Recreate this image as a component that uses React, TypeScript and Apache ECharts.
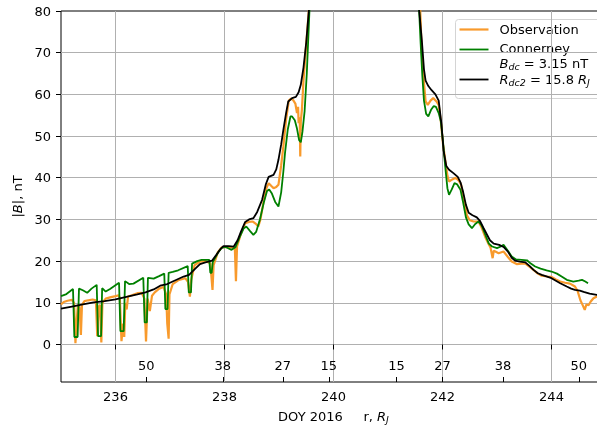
import { useEffect, useRef } from "react";
import * as echarts from "echarts";

// DOY tick positions and |B| tick values
const doyTicks = [236, 238, 240, 242, 244];
const bTicks = [0, 10, 20, 30, 40, 50, 60, 70];

// Radial distance (R_J) labels placed at their DOY positions
const rTickDoy = [236.563, 237.97, 239.07, 239.915, 241.157, 242.0, 243.11, 244.5];
const rTickLabels = ["50", "38", "27", "15", "15", "27", "38", "50"];

// Measured field magnitude, [DOY, nT]
const observation: [number, number][] = [
  [235.0, 9.6], [235.05, 10.2], [235.12, 10.5], [235.2, 10.7], [235.24, 10.0],
  [235.265, 0.3], [235.29, 6.0], [235.31, 9.5], [235.34, 9.0], [235.365, 2.3],
  [235.385, 9.5], [235.43, 10.4], [235.5, 10.6], [235.58, 10.8], [235.64, 10.6],
  [235.665, 2.0], [235.69, 9.0], [235.715, 9.5], [235.74, 0.5], [235.76, 10.0],
  [235.82, 11.0], [235.9, 11.3], [236.0, 11.6], [236.06, 11.8], [236.08, 11.0],
  [236.11, 0.8], [236.14, 5.0], [236.16, 1.8], [236.18, 10.0], [236.205, 8.4],
  [236.23, 11.5], [236.3, 11.8], [236.4, 12.3], [236.48, 12.4], [236.53, 11.0],
  [236.56, 0.7], [236.59, 11.0], [236.63, 8.0], [236.67, 11.7], [236.72, 12.5],
  [236.8, 13.4], [236.88, 13.8], [236.93, 12.0], [236.95, 5.0], [236.975, 1.4],
  [236.99, 12.0], [237.05, 14.5], [237.15, 15.4], [237.28, 15.9], [237.33, 15.0],
  [237.365, 11.5], [237.39, 15.5], [237.45, 19.0], [237.55, 19.9], [237.65, 20.0],
  [237.74, 19.5], [237.78, 13.1], [237.8, 19.0], [237.88, 22.2], [237.95, 23.3],
  [238.05, 23.4], [238.15, 23.2], [238.19, 23.0], [238.21, 15.2], [238.23, 23.5],
  [238.3, 26.5], [238.38, 29.1], [238.45, 29.4], [238.52, 29.5], [238.57, 29.0],
  [238.62, 28.3], [238.66, 30.0], [238.72, 34.5], [238.77, 37.5], [238.81, 38.7],
  [238.86, 38.0], [238.9, 37.5], [238.95, 37.8], [238.99, 38.3], [239.04, 43.0],
  [239.08, 47.5], [239.13, 54.0], [239.18, 58.5], [239.22, 59.0], [239.26, 58.6],
  [239.3, 57.8], [239.33, 55.5], [239.35, 57.0], [239.36, 53.1], [239.38, 54.5],
  [239.39, 45.1], [239.4, 53.5], [239.42, 56.3], [239.45, 63.5], [239.5, 72.0],
  [239.55, 80.5], [239.62, 100], [241.5, 100], [241.59, 80.5], [241.62, 70.0],
  [241.66, 62.7], [241.69, 58.3], [241.73, 57.5], [241.78, 58.5], [241.83, 59.1],
  [241.89, 58.3], [241.93, 57.5], [241.97, 53.5], [242.01, 48.0], [242.05, 44.3],
  [242.09, 40.5], [242.12, 39.1], [242.18, 39.6], [242.24, 40.0], [242.3, 39.3],
  [242.34, 38.4], [242.39, 35.0], [242.45, 30.9], [242.5, 29.8], [242.57, 29.5],
  [242.66, 29.5], [242.72, 28.0], [242.79, 25.6], [242.85, 24.0], [242.88, 23.3],
  [242.92, 20.7], [242.94, 22.5], [242.97, 22.3], [243.03, 21.9], [243.12, 22.3],
  [243.2, 21.0], [243.27, 19.9], [243.36, 19.3], [243.45, 19.4], [243.52, 19.4],
  [243.6, 18.6], [243.67, 17.9], [243.75, 17.0], [243.82, 16.5], [243.92, 16.3],
  [244.0, 16.2], [244.08, 15.6], [244.16, 15.1], [244.25, 14.8], [244.34, 14.6],
  [244.43, 13.9], [244.48, 12.8], [244.53, 10.6], [244.57, 9.5], [244.61, 8.3],
  [244.64, 9.6], [244.68, 9.4], [244.72, 10.3], [244.77, 11.1], [244.83, 11.5],
  [244.95, 11.7],
];

// Connerney current-sheet model, [DOY, nT]
const connerney: [number, number][] = [
  [235.0, 11.6], [235.1, 12.1], [235.22, 13.3], [235.245, 1.8], [235.305, 1.8],
  [235.33, 13.4], [235.4, 13.0], [235.48, 12.4], [235.56, 13.4], [235.655, 14.3],
  [235.68, 2.0], [235.735, 2.0], [235.755, 13.5], [235.82, 12.7], [235.9, 13.3],
  [236.065, 14.8], [236.09, 3.2], [236.15, 3.2], [236.175, 15.2], [236.25, 14.5],
  [236.33, 14.6], [236.51, 16.0], [236.535, 5.3], [236.575, 5.3], [236.595, 16.0],
  [236.7, 15.8], [236.8, 16.4], [236.895, 17.0], [236.915, 8.5], [236.955, 8.5],
  [236.975, 17.2], [237.05, 17.4], [237.15, 17.8], [237.325, 18.8], [237.345, 12.5],
  [237.385, 12.5], [237.405, 19.4], [237.5, 20.0], [237.58, 20.3], [237.72, 20.3],
  [237.74, 17.2], [237.765, 17.2], [237.785, 19.8], [237.88, 22.0], [237.95, 23.2],
  [238.02, 23.4], [238.13, 22.7], [238.2, 23.3], [238.28, 25.8], [238.35, 27.8],
  [238.4, 28.3], [238.47, 27.2], [238.53, 26.3], [238.58, 27.0], [238.65, 30.0],
  [238.72, 34.0], [238.78, 36.8], [238.82, 37.2], [238.87, 36.2], [238.93, 34.2],
  [238.99, 33.1], [239.04, 36.5], [239.08, 41.5], [239.11, 45.9], [239.16, 51.5],
  [239.21, 54.7], [239.24, 54.7], [239.29, 53.8], [239.33, 51.8], [239.37, 49.0],
  [239.4, 48.5], [239.43, 51.0], [239.47, 56.0], [239.51, 65.0], [239.56, 80.5],
  [239.62, 100], [241.5, 100], [241.57, 80.5], [241.6, 72.0], [241.63, 64.5],
  [241.66, 58.5], [241.7, 55.3], [241.74, 54.7], [241.79, 56.3], [241.84, 57.2],
  [241.88, 57.0], [241.93, 55.5], [241.97, 53.5], [242.01, 48.5], [242.05, 42.7],
  [242.09, 37.5], [242.12, 35.9], [242.17, 37.2], [242.22, 38.7], [242.27, 38.4],
  [242.33, 37.1], [242.38, 34.0], [242.43, 30.5], [242.48, 28.8], [242.54, 27.9],
  [242.6, 28.9], [242.66, 29.5], [242.72, 28.5], [242.78, 26.5], [242.85, 24.2],
  [242.91, 23.5], [243.0, 23.1], [243.07, 23.5], [243.12, 23.9], [243.2, 22.5],
  [243.27, 21.1], [243.35, 20.4], [243.45, 20.3], [243.55, 20.2], [243.62, 19.4],
  [243.7, 18.7], [243.8, 18.2], [243.91, 17.8], [244.0, 17.5], [244.1, 17.0],
  [244.2, 16.2], [244.28, 15.5], [244.4, 15.1], [244.5, 15.3], [244.56, 15.5],
  [244.62, 15.1], [244.67, 14.7],
];

// Model with B_dc = 3.15 nT, R_dc2 = 15.8 R_J, [DOY, nT]
const modelRdc2: [number, number][] = [
  [235.0, 8.6], [235.2, 9.1], [235.4, 9.6], [235.6, 10.1], [235.8, 10.4],
  [236.0, 10.8], [236.2, 11.4], [236.4, 12.0], [236.55, 12.5], [236.7, 13.2],
  [236.82, 14.1], [236.95, 14.5], [237.1, 15.4], [237.25, 16.3], [237.35, 16.7],
  [237.45, 18.0], [237.55, 19.3], [237.65, 19.7], [237.77, 20.1], [237.85, 21.5],
  [237.92, 22.8], [237.98, 23.6], [238.08, 23.6], [238.17, 23.5], [238.24, 25.0],
  [238.3, 27.0], [238.38, 29.4], [238.45, 30.0], [238.53, 30.3], [238.6, 31.8],
  [238.69, 34.7], [238.76, 38.5], [238.81, 40.2], [238.9, 40.7], [238.95, 42.0],
  [238.99, 44.3], [239.04, 48.0], [239.08, 51.5], [239.13, 55.5], [239.17, 58.3],
  [239.24, 59.1], [239.31, 59.4], [239.36, 60.5], [239.4, 62.3], [239.45, 66.5],
  [239.5, 72.5], [239.55, 80.5], [239.62, 100], [241.5, 100], [241.57, 80.5],
  [241.62, 73.1], [241.66, 66.0], [241.69, 63.3], [241.74, 62.0], [241.8, 61.0],
  [241.87, 60.0], [241.93, 58.5], [241.98, 53.0], [242.02, 46.5], [242.07, 42.8],
  [242.12, 41.9], [242.2, 41.1], [242.28, 40.2], [242.33, 38.9], [242.38, 36.5],
  [242.43, 33.5], [242.48, 31.6], [242.55, 31.0], [242.63, 30.5], [242.69, 29.6],
  [242.75, 28.0], [242.81, 26.5], [242.87, 25.0], [242.94, 24.2], [243.04, 23.9],
  [243.12, 23.4], [243.2, 22.3], [243.27, 20.8], [243.33, 20.1], [243.42, 19.9],
  [243.52, 19.7], [243.6, 18.8], [243.67, 17.9], [243.75, 17.1], [243.82, 16.7],
  [243.92, 16.3], [244.0, 15.9], [244.08, 15.3], [244.16, 14.7], [244.28, 13.9],
  [244.36, 13.4], [244.43, 13.1], [244.52, 12.9], [244.59, 12.6], [244.7, 12.2],
  [244.83, 11.9], [244.95, 11.6],
];

const FONT = "DejaVu Sans";
const ORANGE = "#f89a2c";
const GREEN = "#008000";
const BLACK = "#000000";

const subRich = {
  i: { fontStyle: "italic" as const, fontFamily: FONT, fontSize: 13, lineHeight: 16, verticalAlign: "middle" as const },
  s: { fontStyle: "italic" as const, fontFamily: FONT, fontSize: 9.5, lineHeight: 9, verticalAlign: "bottom" as const },
  n: { fontFamily: FONT, fontSize: 13, lineHeight: 16 },
};

export default function App() {
  const ref = useRef<HTMLDivElement>(null);

  useEffect(() => {
    if (!ref.current) return;
    const chart = echarts.init(ref.current, undefined, { renderer: "svg" });

    const gridLines = [
      ...bTicks.map((v) => ({ yAxis: v })),
      ...doyTicks.map((v) => ({ xAxis: v })),
    ];

    const legendX = 455;
    const legendTop = 19;

    chart.setOption({
      animation: false,
      textStyle: { fontFamily: FONT },
      grid: {
        left: 61,
        right: -9,
        top: 11,
        bottom: 44,
        outerBoundsMode: "none",
        containLabel: false,
        show: true,
        borderColor: "#000",
        borderWidth: 1,
        backgroundColor: "transparent",
      },
      xAxis: [
        {
          type: "value",
          min: 235,
          max: 245,
          position: "bottom",
          axisLine: { show: false },
          splitLine: { show: false },
          axisTick: {
            show: true,
            customValues: doyTicks,
            length: 5,
            lineStyle: { color: "#000", width: 1 },
          },
          axisLabel: {
            customValues: doyTicks,
            margin: 8,
            fontSize: 13,
            color: "#000",
            fontFamily: FONT,
          },
          name: "DOY 2016     r, {i|R}{s|J}",
          nameLocation: "middle",
          nameGap: 26,
          nameTextStyle: {
            fontSize: 13,
            color: "#000",
            fontFamily: FONT,
            lineHeight: 16,
            rich: subRich,
          },
        },
        {
          type: "value",
          min: 235,
          max: 245,
          position: "bottom",
          axisLine: { show: false },
          splitLine: { show: false },
          axisTick: {
            show: true,
            inside: true,
            customValues: rTickDoy,
            length: 5,
            lineStyle: { color: "#000", width: 1 },
          },
          axisLabel: {
            inside: true,
            customValues: rTickDoy,
            margin: 10,
            fontSize: 13,
            color: "#000",
            fontFamily: FONT,
            formatter: (v: number) => {
              let best = 0;
              for (let k = 1; k < rTickDoy.length; k++) {
                if (Math.abs(rTickDoy[k] - v) < Math.abs(rTickDoy[best] - v)) best = k;
              }
              return rTickLabels[best];
            },
          },
        },
      ],
      yAxis: {
        type: "value",
        min: -9,
        max: 80,
        axisLine: { show: false },
        splitLine: { show: false },
        axisTick: {
          show: true,
          customValues: [...bTicks, 80],
          length: 5,
          lineStyle: { color: "#000", width: 1 },
        },
        axisLabel: {
          customValues: [...bTicks, 80],
          margin: 10,
          fontSize: 13,
          color: "#000",
          fontFamily: FONT,
        },
        name: "|{i|B}|, nT",
        nameLocation: "middle",
        nameGap: 36,
        nameTextStyle: {
          fontSize: 13,
          color: "#000",
          fontFamily: FONT,
          rich: subRich,
        },
      },
      series: [
        {
          name: "Observation",
          type: "line",
          data: observation,
          xAxisIndex: 0,
          yAxisIndex: 0,
          symbol: "none",
          clip: true,
          z: 2,
          lineStyle: { color: ORANGE, width: 2.2 },
          itemStyle: { color: ORANGE },
          markLine: {
            silent: true,
            z: 0,
            symbol: ["none", "none"],
            label: { show: false },
            lineStyle: { color: "#b0b0b0", width: 1, type: "solid" },
            emphasis: { disabled: true },
            data: gridLines,
          },
        },
        {
          name: "Connerney",
          type: "line",
          data: connerney,
          xAxisIndex: 0,
          yAxisIndex: 0,
          symbol: "none",
          clip: true,
          z: 3,
          lineStyle: { color: GREEN, width: 1.8 },
          itemStyle: { color: GREEN },
        },
        {
          name: "Rdc2",
          type: "line",
          data: modelRdc2,
          xAxisIndex: 0,
          yAxisIndex: 0,
          symbol: "none",
          clip: true,
          z: 4,
          lineStyle: { color: BLACK, width: 1.8 },
          itemStyle: { color: BLACK },
        },
      ],
      graphic: [
        {
          type: "group",
          left: legendX,
          top: legendTop,
          z: 100,
          children: [
            {
              type: "rect",
              shape: { x: 0, y: 0, width: 170, height: 79, r: 3 },
              style: { fill: "rgba(255,255,255,0.85)", stroke: "#d4d4d4", lineWidth: 1 },
            },
            {
              type: "line",
              shape: { x1: 4, y1: 10, x2: 33, y2: 10 },
              style: { stroke: ORANGE, lineWidth: 2.2 },
            },
            {
              type: "line",
              shape: { x1: 4, y1: 30, x2: 33, y2: 30 },
              style: { stroke: GREEN, lineWidth: 1.8 },
            },
            {
              type: "line",
              shape: { x1: 4, y1: 60, x2: 33, y2: 60 },
              style: { stroke: BLACK, lineWidth: 1.8 },
            },
            {
              type: "text",
              x: 44,
              y: 10,
              style: {
                text: "Observation",
                fontFamily: FONT,
                fontSize: 13,
                fill: "#000",
                verticalAlign: "middle",
              },
            },
            {
              type: "text",
              x: 44,
              y: 29,
              style: {
                text: "Connerney",
                fontFamily: FONT,
                fontSize: 13,
                fill: "#000",
                verticalAlign: "middle",
              },
            },
            {
              type: "text",
              x: 44,
              y: 44,
              style: {
                text: "{i|B}{s|dc}{n| = 3.15 nT}",
                fontFamily: FONT,
                fontSize: 13,
                fill: "#000",
                verticalAlign: "middle",
                rich: subRich,
              },
            },
            {
              type: "text",
              x: 44,
              y: 60,
              style: {
                text: "{i|R}{s|dc2}{n| = 15.8 }{i|R}{s|J}",
                fontFamily: FONT,
                fontSize: 13,
                fill: "#000",
                verticalAlign: "middle",
                rich: subRich,
              },
            },
          ],
        },
      ],
    });

    return () => chart.dispose();
  }, []);

  return (
    <div
      ref={ref}
      style={{ position: "fixed", left: 0, top: 0, width: 597, height: 426 }}
    />
  );
}
